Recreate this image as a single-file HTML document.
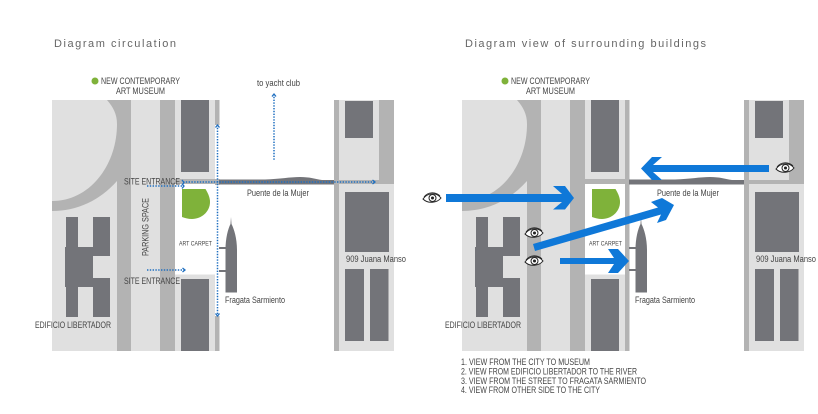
<!DOCTYPE html>
<html>
<head>
<meta charset="utf-8">
<style>
html,body{margin:0;padding:0;background:#fff}
svg{display:block}
text{font-family:"Liberation Sans",sans-serif;fill:#444}
.t{font-size:9px}
.h{font-size:11px;fill:#666}
.d{fill:none;stroke:#1f6fc0;stroke-width:1.5;stroke-dasharray:1.4 1.4}
.c{fill:none;stroke:#1f6fc0;stroke-width:1.3}
</style>
</head>
<body>
<svg width="818" height="414" viewBox="0 0 818 414" xmlns="http://www.w3.org/2000/svg">
<defs>
<g id="plan">
  <rect x="52" y="100" width="163" height="251" fill="#e0e0e0"/>
  <path d="M52,211 C78,211 100,200 117,181 L117,100 L52,100 Z" fill="#b3b3b3"/>
  <path d="M52,100 L107,100 C113,107 117,114 117,124 C117,165 90,201 52,201 Z" fill="#e0e0e0"/>
  <rect x="117" y="100" width="14" height="251" fill="#b3b3b3"/>
  <rect x="160" y="100" width="15" height="251" fill="#b3b3b3"/>
  <rect x="175" y="184" width="40" height="90.500" fill="#fff"/>
  <rect x="175" y="179" width="40" height="5" fill="#b3b3b3"/>
  <rect x="215" y="100" width="4.500" height="251" fill="#b3b3b3"/>
  <rect x="181" y="100" width="28" height="72" fill="#737479"/>
  <rect x="181" y="279" width="28" height="72" fill="#737479"/>
  <rect x="66" y="217" width="12" height="100" fill="#737479"/>
  <rect x="65" y="247" width="28" height="40" fill="#737479"/>
  <rect x="93" y="217" width="17" height="39" fill="#737479"/>
  <rect x="93" y="278" width="17" height="39" fill="#737479"/>
  <rect x="78" y="217" width="15" height="30" fill="#e0e0e0"/>
  <path d="M182,189 L205.500,189 C208.500,194 210,198 210,202 C210,212 201,219 192,219 C188,219 185,218 182,217 Z" fill="#7fb23a"/>
  <circle cx="95" cy="81" r="3.500" fill="#7fb23a"/>
  <path d="M231,217 L231.500,224 C234,229 237,238 237,250 L237,292.500 L225.500,292.500 L225.500,250 C225.500,238 228,229 230.500,224 Z" fill="#737479"/>
  <path d="M219,179.500 H265 C280,179 290,177 300,177 C310,177 315,179 322,180 L334,180 V184.500 H219 Z" fill="#737479"/>
  <rect x="334" y="100" width="60" height="251" fill="#e0e0e0"/>
  <rect x="334" y="100" width="5" height="251" fill="#b3b3b3"/>
  <rect x="379" y="100" width="15" height="84" fill="#b3b3b3"/>
  <rect x="334" y="180" width="60" height="4" fill="#b3b3b3"/>
  <rect x="345" y="101" width="28" height="37" fill="#737479"/>
  <rect x="345" y="192" width="44" height="60" fill="#737479"/>
  <rect x="345" y="269" width="19" height="72" fill="#737479"/>
  <rect x="370" y="269" width="18.500" height="72" fill="#737479"/>
  <text class="t" x="101" y="84" textLength="79" lengthAdjust="spacingAndGlyphs">NEW CONTEMPORARY</text>
  <text class="t" x="116" y="94" textLength="49" lengthAdjust="spacingAndGlyphs">ART MUSEUM</text>
  <text style="font-size:6.500px" x="179" y="245.500" textLength="33" lengthAdjust="spacingAndGlyphs">ART CARPET</text>
  <text class="t" x="35" y="328" textLength="76" lengthAdjust="spacingAndGlyphs">EDIFICIO LIBERTADOR</text>
  <text class="t" x="247" y="196" textLength="62" lengthAdjust="spacingAndGlyphs">Puente de la Mujer</text>
  <text class="t" x="225" y="303" textLength="60" lengthAdjust="spacingAndGlyphs">Fragata Sarmiento</text>
  <text class="t" x="346" y="262" textLength="60" lengthAdjust="spacingAndGlyphs">909 Juana Manso</text>
</g>
<g id="eye">
  <path d="M-9,1 C-5,-5 4,-6.500 9,0 C5,5 -4,6 -9,1 Z" fill="#fff" stroke="#222" stroke-width="1"/>
  <path d="M-8,-1 C-4,-6.500 4,-6.500 8,-2" fill="none" stroke="#222" stroke-width="0.800"/>
  <circle cx="0.500" cy="0" r="3.500" fill="none" stroke="#222" stroke-width="1"/>
  <circle cx="0.500" cy="0" r="1.500" fill="#222"/>
</g>
</defs>

<text class="h" x="54" y="47" textLength="122">Diagram circulation</text>
<text class="h" x="465" y="47" textLength="241">Diagram view of surrounding buildings</text>

<use href="#plan"/>
<use href="#plan" x="410"/>

<!-- left strip is knocked out behind the vertical route -->
<rect x="215" y="125" width="4.500" height="54" fill="#fff"/>
<rect x="215" y="185" width="4.500" height="131" fill="#fff"/>
<rect x="219" y="247" width="7" height="2" fill="#737479"/>
<rect x="219" y="270" width="7" height="2" fill="#737479"/>
<rect x="629" y="247" width="7" height="2" fill="#737479"/>
<rect x="629" y="269" width="7" height="2" fill="#737479"/>

<!-- left labels -->
<text class="t" x="124" y="184.500" textLength="56" lengthAdjust="spacingAndGlyphs">SITE ENTRANCE</text>
<text class="t" x="124" y="284" textLength="56" lengthAdjust="spacingAndGlyphs">SITE ENTRANCE</text>
<text class="t" transform="translate(148.500,256) rotate(-90)" x="0" y="0" textLength="58" lengthAdjust="spacingAndGlyphs">PARKING SPACE</text>
<text class="t" x="257" y="86" textLength="43" lengthAdjust="spacingAndGlyphs">to yacht club</text>

<!-- dotted routes -->
<path class="d" d="M217.500,125 V316"/>
<path class="c" d="M215.500,127.500 L217.500,125 L219.500,127.500"/>
<path class="c" d="M215.500,313.500 L217.500,316 L219.500,313.500"/>
<path class="d" d="M274,94 V161"/>
<path class="c" d="M272,96.500 L274,94 L276,96.500"/>
<path class="d" d="M183,182 H375"/>
<path class="c" d="M372.500,180 L375,182 L372.500,184"/>
<path class="d" d="M147,186 H183"/>
<path class="c" d="M182,180 L184,182.500 L182,185 M182,184 L184,186 L182,188.500"/>
<path class="d" d="M147,270 H185"/>
<path class="c" d="M182.500,268 L185,270 L182.500,272"/>

<!-- blue view arrows -->
<polygon fill="#0f78d8" points="446,194 562,194 553,186 565,186 574,198 565,209.500 553,209.500 562,202 446,202"/>
<polygon fill="#0f78d8" points="769,165 653,165 662,157 652,157 641,168.500 652,180 662,180 653,172 769,172"/>
<polygon fill="#0f78d8" points="533,244 658,207.500 651,202 662,198 674,205 666,220 657,223 661,214.500 535,251"/>
<polygon fill="#0f78d8" points="560,258 614,258 608,249 618,249 629,261 618,273 608,273 614,264 560,264"/>

<!-- eyes -->
<use href="#eye" x="432" y="198"/>
<use href="#eye" x="534" y="233"/>
<use href="#eye" x="534" y="261"/>
<use href="#eye" x="785" y="168"/>

<!-- list -->
<text class="t" x="461" y="365" textLength="129" lengthAdjust="spacingAndGlyphs">1. VIEW FROM THE CITY TO MUSEUM</text>
<text class="t" x="461" y="374.500" textLength="176" lengthAdjust="spacingAndGlyphs">2. VIEW FROM EDIFICIO LIBERTADOR TO THE RIVER</text>
<text class="t" x="461" y="384" textLength="185" lengthAdjust="spacingAndGlyphs">3. VIEW FROM THE STREET TO FRAGATA SARMIENTO</text>
<text class="t" x="461" y="393" textLength="139" lengthAdjust="spacingAndGlyphs">4. VIEW FROM OTHER SIDE TO THE CITY</text>
</svg>
</body>
</html>
